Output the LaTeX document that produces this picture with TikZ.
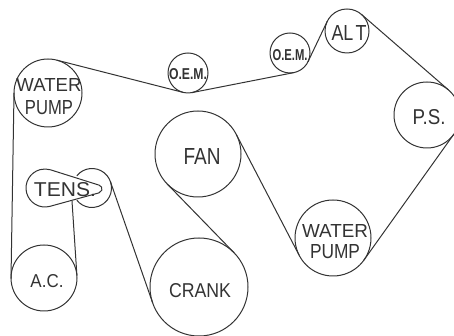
\documentclass[tikz,border=0pt]{standalone}
\usepackage{fontspec}
\usepackage{graphicx}
\setmainfont{Liberation Sans}
\definecolor{ink}{gray}{0.2}
\newcommand{\fitlbl}[3]{\resizebox{#1pt}{#2pt}{#3}}
\tikzset{
  pulley/.style={circle,draw=ink,line width=1pt,inner sep=0pt,outer sep=0pt,minimum size=#1},
  hub/.style={circle,inner sep=0pt,outer sep=0pt,minimum size=#1},
  belt/.style={draw=ink,line width=1pt,line join=round},
  lbl/.style={inner sep=0pt,outer sep=0pt,text=ink,align=center}
}
\begin{document}
\begin{tikzpicture}[x=1pt,y=1pt]
\path[use as bounding box,clip] (0,0) rectangle (454,336);
\fill[white] (0,0) rectangle (454,336);
% pulleys
\node[pulley=68pt] (wpa) at (48,243) {};
\node[pulley=66pt] (ac) at (44,58) {};
\node[hub=38pt] (tensl) at (45,148) {};
\node[hub=8pt] (tip) at (98,147) {};
\node[hub=39pt] (tensr) at (92,148) {};
\node[pulley=40pt] (oema) at (188,263) {};
\node[pulley=40pt] (oemb) at (290,283) {};
\node[pulley=44pt] (alt) at (347,305) {};
\node[pulley=66pt] (ps) at (427,221) {};
\node[pulley=86pt] (fan) at (198,182) {};
\node[pulley=98pt] (crank) at (199,49) {};
\node[pulley=76pt] (wpb) at (333,98) {};
\coordinate (tb) at (72,135);
% belts
\draw[belt] (wpa.75.7) -- (oema.255.7);
\draw[belt] (oema.281.1) -- (oemb.281.1);
\draw[belt] (oemb.334.5) -- (alt.154.5);
\draw[belt] (alt.49) -- (ps.49);
\draw[belt] (ps.324.5) -- (wpb.324.5);
\draw[belt] (wpb.207.5) -- (fan.27.5);
\draw[belt] (fan.224.2) -- (crank.44.2);
\draw[belt] (crank.199.2) -- (tensr.19.2);
\draw[belt] (wpa.180) -- (ac.181);
\draw[belt] (tb) -- (ac.4);
\draw[belt] (tensl.73) -- (tip.73) arc[start angle=73,end angle=-75,radius=4pt]
  -- (tensl.285) arc[start angle=285,end angle=73,radius=19pt];
\draw[belt] (tensr.141) arc[start angle=141,end angle=-141,radius=19.5pt];
% labels
\node[lbl,font=\fontsize{10}{23.5}\selectfont] (twpa) at (49,239.25) {\fitlbl{65}{13}{WATER}\\\fitlbl{48}{14}{PUMP}};
\node[lbl] (tac) at (47,55) {\fitlbl{33}{13}{A.C.}};
\node[lbl] (ttens) at (65,146) {\fitlbl{62}{14}{TENS.}};
\node[lbl,font=\bfseries] (toema) at (188,262) {\fitlbl{38}{11}{O.E.M.}};
\node[lbl,font=\bfseries] (toemb) at (290,281) {\fitlbl{35}{11}{O.E.M.}};
\node[lbl] (talt) at (349,303) {\fitlbl{35}{15}{AL\kern.12em T}};
\node[lbl] (tps) at (429,219) {\fitlbl{33}{15}{P.S.}};
\node[lbl] (tfan) at (202,179) {\fitlbl{37}{16}{FAN}};
\node[lbl] (tcrank) at (200,45) {\fitlbl{62}{14}{CRANK}};
\node[lbl,font=\fontsize{10}{21.5}\selectfont] (twpb) at (335,94.25) {\fitlbl{66}{13}{WATER}\\\fitlbl{50}{14}{PUMP}};
\end{tikzpicture}
\end{document}
